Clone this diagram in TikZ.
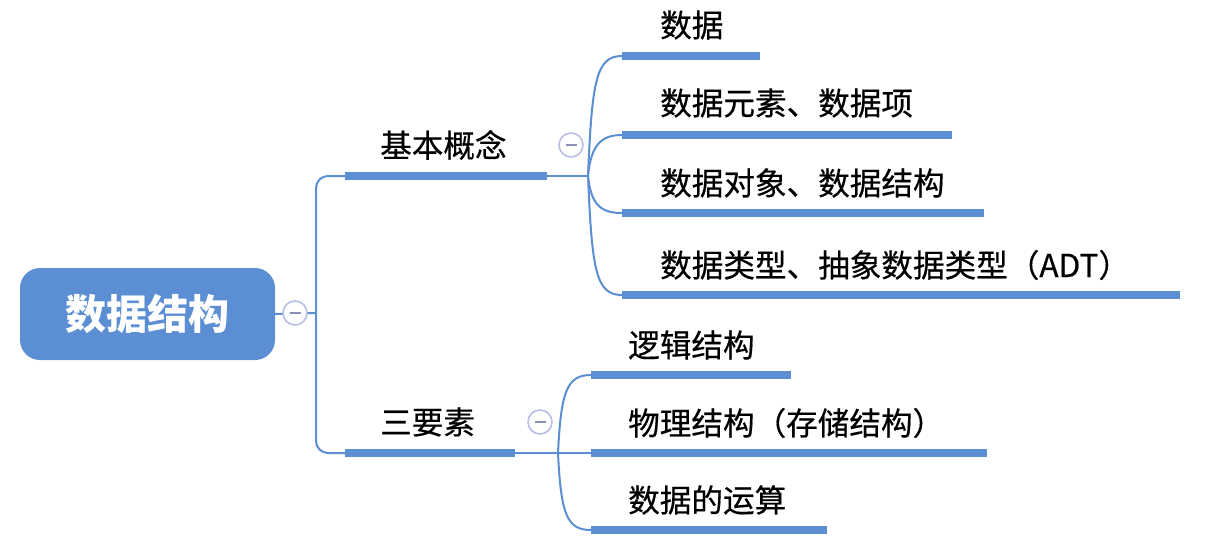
\documentclass[tikz,border=0pt]{standalone}
\usepackage{fontspec}
\newfontfamily\cjk{Noto Sans CJK SC}
\newfontfamily\cjkm[FakeBold=0.5]{Noto Sans CJK SC}
\definecolor{mmblue}{HTML}{5B8ED3}
\definecolor{ringc}{HTML}{B9BEE6}
\definecolor{minusc}{HTML}{8A8FB5}
\begin{document}
\begin{tikzpicture}[x=1pt,y=-1pt,
  bar/.style={rectangle, fill=mmblue, inner sep=0pt, minimum height=8pt, anchor=west},
  txt/.style={font=\cjkm\fontsize{31.6}{31.6}\selectfont, anchor=west, inner sep=0pt},
  link/.style={draw=mmblue, line width=2pt},
  ringnode/.style={circle, draw=ringc, fill=white, line width=1.6pt, minimum size=24pt, inner sep=0pt,
    path picture={\draw[minusc,line width=1.5pt] ([xshift=-5.5pt]path picture bounding box.center) -- ([xshift=5.5pt]path picture bounding box.center);}}
]
\useasboundingbox (0,0) rectangle (1229,559);

% root
\node[fill=mmblue, rounded corners=20pt, minimum width=255pt, minimum height=92pt, inner sep=0pt,
  text=white, font=\cjk\bfseries\fontsize{41}{41}\selectfont] (root) at (147.5,314) {数据结构};

% level 1 bars and texts
\node[bar, minimum width=202pt] (b1) at (345,176) {};
\node[bar, minimum width=170pt] (b2) at (345,453) {};
\node[txt] (t1) at (380,145) {基本概念};
\node[txt] (t2) at (380,422) {三要素};

% children bars
\node[bar, minimum width=138pt] (c1) at (622,56) {};
\node[bar, minimum width=330pt] (c2) at (622,135) {};
\node[bar, minimum width=362pt] (c3) at (622,213) {};
\node[bar, minimum width=558pt] (c4) at (622,295) {};
\node[bar, minimum width=200pt] (d1) at (591,375) {};
\node[bar, minimum width=396pt] (d2) at (591,453) {};
\node[bar, minimum width=236pt] (d3) at (591,530) {};

% children texts
\node[txt] (tc1) at (660,25) {数据};
\node[txt] (tc2) at (660,103) {数据元素、数据项};
\node[txt] (tc3) at (660,183) {数据对象、数据结构};
\node[txt] (tc4) at (660,265) {数据类型、抽象数据类型（ADT）};
\node[txt] (td1) at (628,345) {逻辑结构};
\node[txt] (td2) at (628,423) {物理结构（存储结构）};
\node[txt] (td3) at (628,500) {数据的运算};

% junction coordinates
\coordinate (trunk) at (316,313);
\coordinate (j1) at (588,176);
\coordinate (j2) at (558,453);

% connectors
\draw[link] (root.east) -- (trunk);
\draw[link, rounded corners=12pt] (b1.west) -- (b1.west -| trunk) -- (b2.west -| trunk) -- (b2.west);
\draw[link] (b1.east) -- (j1);
\draw[link] (j1) .. controls +(4,-95) and +(-26,0) .. (c1.west);
\draw[link] (j1) .. controls +(3,-32) and +(-20,0) .. (c2.west);
\draw[link] (j1) .. controls +(3,30) and +(-20,0) .. (c3.west);
\draw[link] (j1) .. controls +(4,95) and +(-26,0) .. (c4.west);
\draw[link] (b2.east) -- (d2.west);
\draw[link] (j2) .. controls +(3,-62) and +(-24,0) .. (d1.west);
\draw[link] (j2) .. controls +(3,62) and +(-24,0) .. (d3.west);

% collapse rings
\node[ringnode] (r1) at (295,313) {};
\node[ringnode] (r2) at (571,145) {};
\node[ringnode] (r3) at (540,422) {};
\end{tikzpicture}
\end{document}
